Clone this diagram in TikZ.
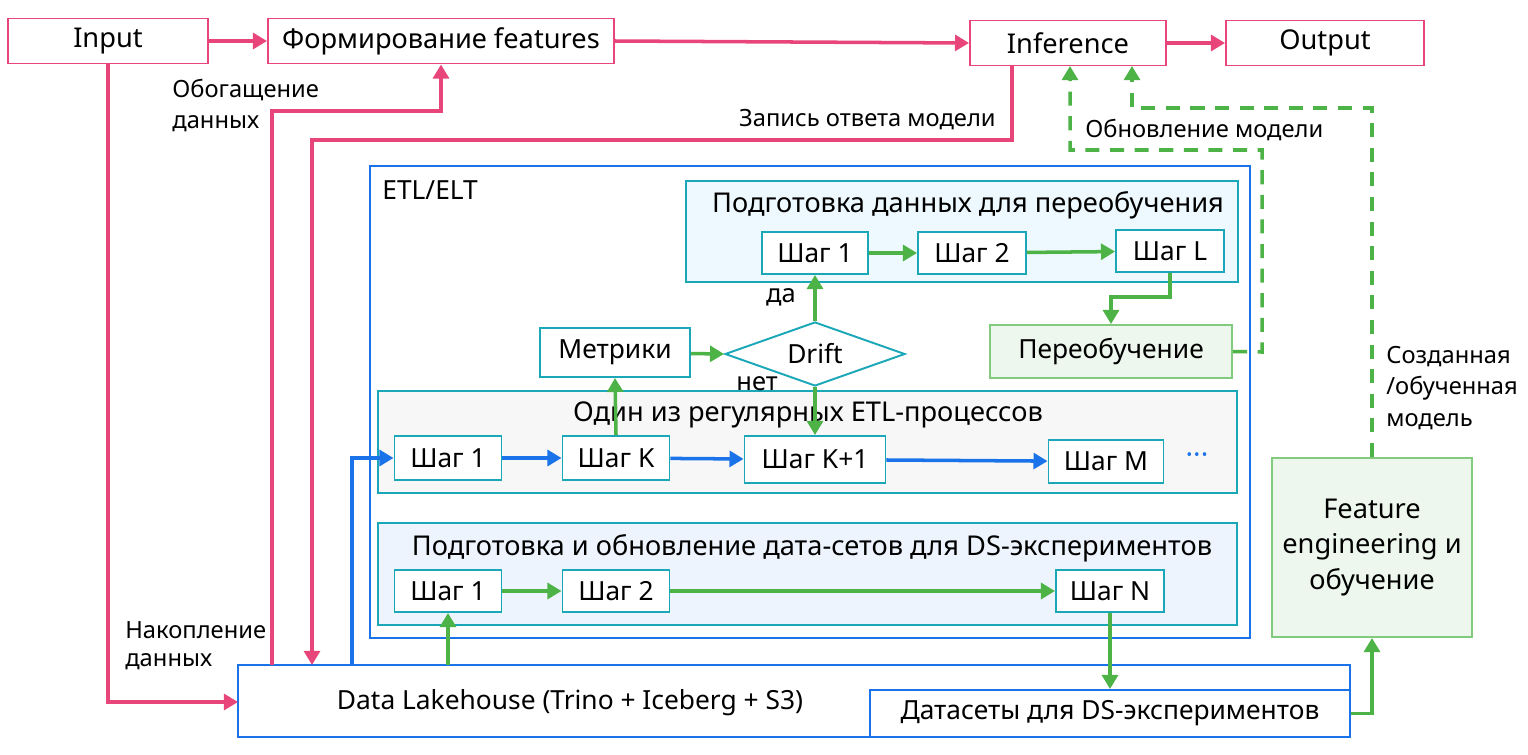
\documentclass[tikz,border=0pt]{standalone}
\usepackage{fontspec}
\setmainfont{Noto Sans}
\usetikzlibrary{shapes.geometric,arrows.meta}
\definecolor{pk}{HTML}{E8457A}
\definecolor{gr}{HTML}{4DB347}
\definecolor{bl}{HTML}{1A73E8}
\definecolor{tl}{HTML}{1AA7B8}
\begin{document}
\begin{tikzpicture}[x=0.02cm,y=-0.02cm,
 pbox/.style={draw=pk,line width=1.1pt,minimum height=45*0.02cm,minimum width=#1*0.02cm,inner sep=0pt,font=\fontsize{15.5}{17}\selectfont},
 step/.style={draw=tl,line width=1.1pt,fill=white,minimum height=42*0.02cm,minimum width=#1*0.02cm,inner sep=0pt,font=\fontsize{15}{17}\selectfont},
 grp/.style={draw=tl,line width=1.1pt,fill=#1},
 lbl/.style={font=\fontsize{13.5}{15}\selectfont,inner sep=0pt},
 pa/.style={draw=pk,line width=2pt,-{Triangle[length=8pt,width=9pt]}},
 ga/.style={draw=gr,line width=2pt,-{Triangle[length=8pt,width=9pt]}},
 gd/.style={draw=gr,line width=2pt,dash pattern=on 8pt off 6pt,-{Triangle[length=8pt,width=9pt]}},
 ba/.style={draw=bl,line width=2pt,-{Triangle[length=8pt,width=9pt]}}]
\useasboundingbox (0,0) rectangle (1528,754);
% top row
\node[pbox=200] (in) at (108,41) {Input};
\node[pbox=346] (form) at (441,41) {Формирование features};
\node[pbox=196] (inf) at (1068,43) {Inference};
\node[pbox=198] (out) at (1325,43) {Output};
\draw[pa] (in) -- (form);
\draw[pa] (form.east) -- (inf.west);
\draw[pa] (inf) -- (out);
% lakehouse
\node[draw=bl,line width=1.1pt,minimum width=1112*0.02cm,minimum height=72*0.02cm,inner sep=0pt] (lh) at (794,701) {};
\node[font=\fontsize{15}{17}\selectfont] (lht) at (570,703) {Data Lakehouse (Trino + Iceberg + S3)};
\node[draw=bl,line width=1.1pt,fill=white,minimum width=480*0.02cm,minimum height=47*0.02cm,inner sep=0pt,font=\fontsize{15}{17}\selectfont] (ds) at (1110,713.5) {Датасеты для DS-экспериментов};
% pink connectors
\coordinate (lhA) at (238,702);
\draw[pa] (in.south) |- (lhA);
\coordinate (p1) at (272,665);
\draw[pa] (p1) -- (272,111) -| (form.south);
\coordinate (p2) at (1012,66);
\draw[pa] (p2) -- (1012,140) -- (312,140) -- (312,665);
\node[lbl,anchor=west] (l1) at (172,90) {Обогащение};
\node[lbl,anchor=west] (l2) at (172,124) {данных};
\node[lbl,anchor=east] (l3) at (996,120) {Запись ответа модели};
\node[lbl,anchor=west] (l4) at (125,630) {Накопление};
\node[lbl,anchor=west] (l5) at (125,662) {данных};
% ETL box
\draw[bl,line width=1.1pt] (370,166) rectangle (1250,638);
\node[anchor=west,inner sep=0pt,font=\fontsize{15}{17}\selectfont] (etl) at (382,190) {ETL/ELT};
% retrain prep
\draw[grp={cyan!7}] (686,181) rectangle (1238,282);
\node[font=\fontsize{15.5}{17}\selectfont] (t1) at (968,205) {Подготовка данных для переобучения};
\node[step=106] (a1) at (815,253) {Шаг 1};
\node[step=108] (a2) at (972,253) {Шаг 2};
\node[step=108] (aL) at (1170,251) {Шаг L};
\draw[ga] (a1) -- (a2);
\draw[ga] (a2) -- (aL);
\node[draw=tl,line width=1.1pt,diamond,aspect=2.8,minimum width=180*0.02cm,minimum height=64*0.02cm,inner sep=0pt,font=\fontsize{15}{17}\selectfont] (dr) at (815,354) {Drift};
\node[step=150,minimum height=49*0.02cm] (met) at (615,352.5) {Метрики};
\node[draw=gr!70,line width=1.1pt,fill=gr!10,minimum width=242*0.02cm,minimum height=53*0.02cm,inner sep=0pt,font=\fontsize{15}{17}\selectfont] (re) at (1111,351.5) {Переобучение};
\draw[ga] (aL.south) -- (1170,297) -| (re.north);
\draw[ga] (dr.north) -- (a1.south);
\node[lbl,font=\fontsize{14.5}{16}\selectfont] (da) at (781,297) {да};
\draw[ga] (met) -- (dr.west);
% regular ETL
\draw[grp={gray!6}] (378,391) rectangle (1237,493);
\node[font=\fontsize{15.5}{17}\selectfont] (t2) at (808,415) {Один из регулярных ETL-процессов};
\node[step=107,minimum height=44*0.02cm] (b1) at (448,458) {Шаг 1};
\node[step=107,minimum height=44*0.02cm] (bK) at (616,458) {Шаг K};
\node[step=141,minimum height=47*0.02cm] (bK1) at (815,459.5) {Шаг K+1};
\node[step=115,minimum height=43*0.02cm] (bM) at (1106,461.5) {Шаг M};
\node[text=bl,font=\fontsize{16}{17}\selectfont\bfseries] (dots) at (1197,459) {···};
\draw[ba] (b1) -- (bK);
\draw[ba] (bK) -- (bK1);
\draw[ba] (bK1) -- (bM);
\draw[ga] (bK.north) -- (met.south);
\draw[ga] (dr.south) -- (bK1.north);
\node[lbl,font=\fontsize{14.5}{16}\selectfont] (net) at (757,384) {нет};
\coordinate (bs) at (352,665);
\draw[ba] (bs) |- (b1.west);
% DS prep
\draw[grp={bl!8}] (378,523) rectangle (1237,625);
\node[font=\fontsize{15.5}{17}\selectfont] (t3) at (812,548) {Подготовка и обновление дата-сетов для DS-экспериментов};
\node[step=107] (c1) at (448,591) {Шаг 1};
\node[step=107] (c2) at (616,591) {Шаг 2};
\node[step=108] (cN) at (1110,591) {Шаг N};
\draw[ga] (c1) -- (c2);
\draw[ga] (c2) -- (cN);
\coordinate (gs) at (448,665);
\draw[ga] (gs) -- (c1.south);
\draw[ga] (cN.south) -- (ds.north);
% feature engineering
\node[draw=gr!70,line width=1.1pt,fill=gr!10,minimum width=200*0.02cm,minimum height=179*0.02cm,inner sep=0pt,align=center,font=\fontsize{15.5}{20}\selectfont] (fe) at (1372,547.5) {Feature\\engineering и\\обучение};
\draw[ga] (ds.east) -| (fe.south);
\coordinate (inf1) at (1132,66);
\coordinate (inf2) at (1070,66);
\draw[gd] (fe.north) -- (1372,108) -- (1132,108) -- (inf1);
\draw[gd] (re.east) -- (1262,352) -- (1262,150) -- (1070,150) -- (inf2);
\node[lbl,anchor=west] (ob) at (1085,130) {Обновление модели};
\node[lbl,anchor=west,align=left] (cr) at (1386,388) {Созданная\\[3pt]/обученная\\[3pt]модель};
\end{tikzpicture}
\end{document}
